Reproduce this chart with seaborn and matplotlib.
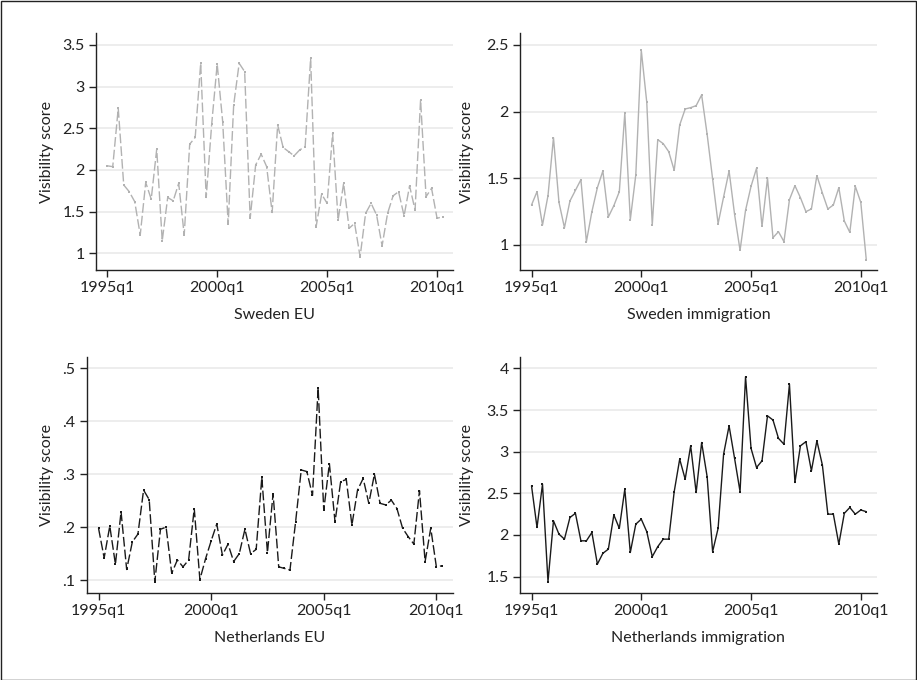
import numpy as np
import pandas as pd
import matplotlib
matplotlib.use("Agg")
import matplotlib.pyplot as plt
import seaborn as sns

# ---- data (quarterly, 1995q1 .. 2010q2) ----
quarters = [str(p).lower() for p in pd.period_range("1995Q1", periods=62, freq="Q")]

sweden_eu = [2.05, 2.04, 2.74, 1.82, 1.74, 1.62, 1.22, 1.85, 1.65, 2.25,
             1.15, 1.67, 1.63, 1.84, 1.22, 2.31, 2.39, 3.28, 1.67, 2.55,
             3.27, 2.58, 1.35, 2.78, 3.28, 3.18, 1.42, 2.06, 2.19, 2.04,
             1.49, 2.54, 2.27, 2.22, 2.17, 2.24, 2.28, 3.34, 1.32, 1.71,
             1.60, 2.44, 1.40, 1.84, 1.30, 1.36, 0.96, 1.48, 1.60, 1.46,
             1.09, 1.48, 1.69, 1.74, 1.45, 1.81, 1.52, 2.84, 1.68, 1.78,
             1.42, 1.44]

sweden_imm = [1.30, 1.40, 1.15, 1.37, 1.805, 1.32, 1.13, 1.33, 1.41, 1.49,
              1.025, 1.25, 1.43, 1.555, 1.21, 1.295, 1.40, 1.99, 1.19, 1.525,
              2.46, 2.07, 1.15, 1.79, 1.76, 1.70, 1.56, 1.90, 2.02, 2.03,
              2.045, 2.125, 1.83, 1.495, 1.16, 1.36, 1.555, 1.23, 0.96, 1.26,
              1.44, 1.575, 1.14, 1.50, 1.055, 1.10, 1.025, 1.34, 1.445, 1.355,
              1.25, 1.27, 1.52, 1.39, 1.27, 1.30, 1.43, 1.18, 1.095, 1.44,
              1.32, 0.89]

nl_eu = [.198, .142, .202, .130, .229, .120, .172, .187, .270, .252,
         .097, .196, .200, .113, .138, .125, .138, .235, .101, .140,
         .174, .206, .147, .168, .135, .150, .196, .150, .158, .294,
         .152, .263, .125, .122, .119, .210, .308, .305, .260, .463,
         .232, .320, .210, .286, .290, .204, .270, .292, .245, .300,
         .245, .242, .251, .235, .198, .182, .168, .269, .135, .198,
         .125, .127]

nl_imm = [2.59, 2.09, 2.61, 1.44, 2.17, 2.01, 1.95, 2.21, 2.26, 1.93,
          1.93, 2.03, 1.65, 1.78, 1.83, 2.24, 2.08, 2.55, 1.79, 2.13,
          2.19, 2.04, 1.74, 1.86, 1.95, 1.95, 2.52, 2.91, 2.67, 3.07,
          2.51, 3.11, 2.70, 1.80, 2.08, 2.97, 3.31, 2.92, 2.52, 3.90,
          3.04, 2.81, 2.89, 3.43, 3.38, 3.16, 3.09, 3.81, 2.63, 3.07,
          3.12, 2.77, 3.13, 2.84, 2.25, 2.25, 1.89, 2.26, 2.33, 2.25,
          2.30, 2.28]

xtick_labels = ["1995q1", "2000q1", "2005q1", "2010q1"]
panel_titles = ["Sweden EU", "Sweden immigration", "Netherlands EU", "Netherlands immigration"]
ytick_sets = [
    ([1, 1.5, 2, 2.5, 3, 3.5], ["1", "1.5", "2", "2.5", "3", "3.5"]),
    ([1, 1.5, 2, 2.5], ["1", "1.5", "2", "2.5"]),
    ([.1, .2, .3, .4, .5], [".1", ".2", ".3", ".4", ".5"]),
    ([1.5, 2, 2.5, 3, 3.5, 4], ["1.5", "2", "2.5", "3", "3.5", "4"]),
]

df = pd.DataFrame({
    "t": np.arange(len(quarters)),
    "quarter": quarters,
    "sweden_eu": sweden_eu,
    "sweden_imm": sweden_imm,
    "nl_eu": nl_eu,
    "nl_imm": nl_imm,
})

sns.set_style("white")
plt.rcParams["font.family"] = ["Lato", "DejaVu Sans"]

W, H = 917, 680
fig = plt.figure(figsize=(W / 100, H / 100), dpi=100)


def add_ax(l, r, t, b):
    return fig.add_axes([l / W, 1 - b / H, (r - l) / W, (b - t) / H])


specs = [
    # col, box(l,r,t,b), ylim, color, dashed, ylabel_x_px
    ("sweden_eu", (95.7, 453, 33.3, 270), (0.8, 3.64), "#b2b2b2", True, 47),
    ("sweden_imm", (520, 876.7, 33.3, 270), (0.8125, 2.5875), "#b2b2b2", False, 467),
    ("nl_eu", (86.7, 452.7, 356.7, 593.3), (0.075, 0.522), "#1a1a1a", True, 47),
    ("nl_imm", (520, 876.7, 356.7, 593.3), (1.3, 4.14), "#1a1a1a", False, 467),
]

for k, (col, box, ylim, color, dashed, ylx) in enumerate(specs):
    l, r, t, b = box
    ax = add_ax(l, r, t, b)
    ls = (0, (7, 2.2)) if dashed else "-"
    sns.lineplot(data=df, x="t", y=col, ax=ax, color=color, linewidth=1.0,
                 linestyle=ls, marker="s", markersize=1.8, markeredgewidth=0,
                 markerfacecolor=color)
    ax.set_xlim(-2.1, 62.9)
    ax.set_ylim(*ylim)
    yt, ytl = ytick_sets[k]
    ax.set_yticks(yt)
    ax.set_yticklabels(ytl)
    ax.set_xticks([0, 20, 40, 60])
    ax.set_xticklabels(xtick_labels)
    ax.yaxis.grid(True, color="#ececec", linewidth=1.3)
    ax.xaxis.grid(False)
    ax.set_axisbelow(True)
    for s in ["top", "right"]:
        ax.spines[s].set_visible(False)
    for s in ["left", "bottom"]:
        ax.spines[s].set_color("#222222")
        ax.spines[s].set_linewidth(1.0)
    ax.tick_params(axis="both", direction="out", length=5, width=1,
                   color="#222222", labelsize=11.5, pad=3, labelcolor="#222222")
    ax.tick_params(axis="y", left=True)
    ax.tick_params(axis="x", bottom=True)
    ax.set_ylabel("Visibility score", fontsize=11.5, color="#222222")
    ax.set_xlabel(panel_titles[k], fontsize=11.5, color="#222222")
    wpx, hpx = r - l, b - t
    ax.yaxis.set_label_coords((ylx - l) / wpx, 0.5)
    ax.yaxis.label.set_va("center")
    ax.xaxis.label.set_va("center")
    ax.xaxis.set_label_coords(0.5, -45 / hpx)

fig.add_artist(plt.Rectangle((0.5 / W, 0.5 / H), 1 - 1.5 / W, 1 - 1.5 / H,
                             transform=fig.transFigure, fill=False,
                             edgecolor="#222222", linewidth=1.0))

fig.savefig("out.png", dpi=100, facecolor="white")
